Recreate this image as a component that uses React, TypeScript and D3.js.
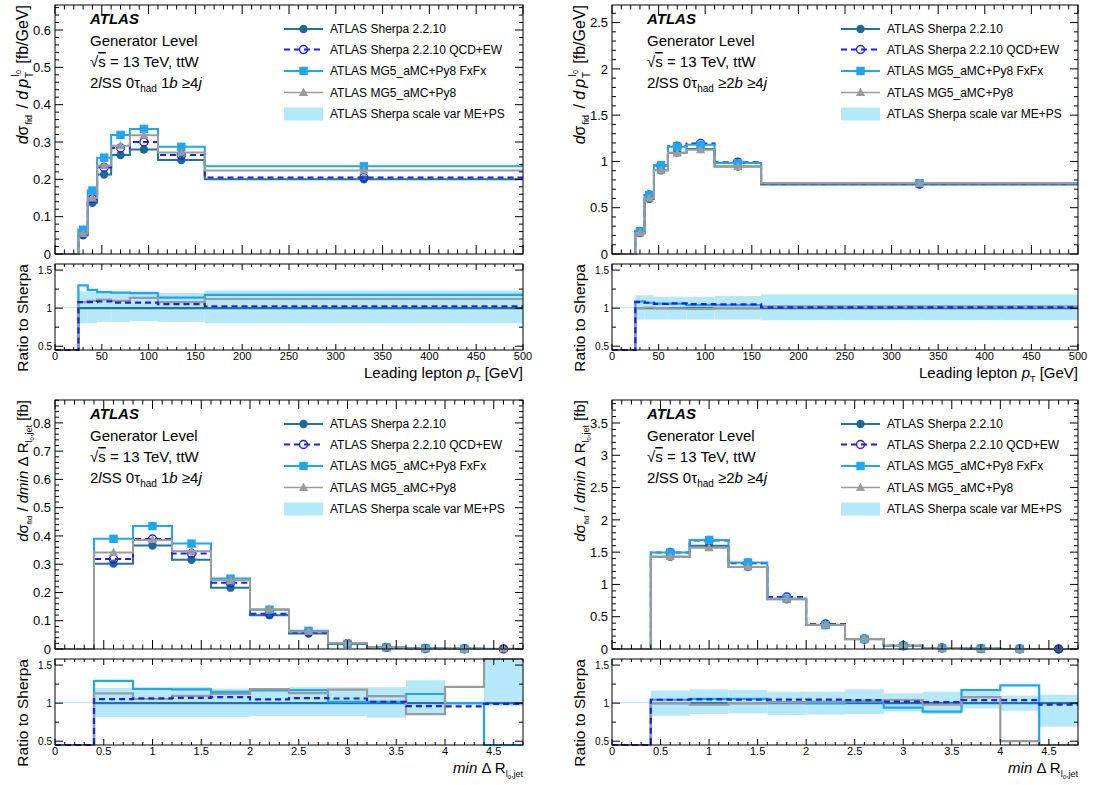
import React from 'react';
import * as d3 from 'd3';

// ---- bin edges ----
const ptEdges = [0, 25, 35, 45, 60, 80, 110, 160, 500];
const drEdges = [0, 0.4, 0.8, 1.2, 1.6, 2.0, 2.4, 2.8, 3.2, 3.6, 4.0, 4.4, 4.8];

// ---- leading lepton pT, 1b ----
const pt1bSherpa = [0, 0.050, 0.137, 0.213, 0.265, 0.280, 0.252, 0.200];
const pt1bQcdEw = [0, 0.054, 0.148, 0.232, 0.284, 0.300, 0.265, 0.205];
const pt1bFxFx = [0, 0.065, 0.170, 0.258, 0.319, 0.335, 0.287, 0.235];
const pt1bMg5 = [0, 0.054, 0.150, 0.237, 0.290, 0.318, 0.272, 0.224];
const pt1bBandUp = [1, 1.22, 1.22, 1.21, 1.21, 1.22, 1.20, 1.23];
const pt1bBandDown = [1, 0.80, 0.80, 0.82, 0.82, 0.83, 0.82, 0.80];

// ---- leading lepton pT, >=2b ----
const pt2bSherpa = [0, 0.225, 0.595, 0.905, 1.095, 1.135, 0.945, 0.750];
const pt2bQcdEw = [0, 0.243, 0.637, 0.955, 1.165, 1.195, 0.992, 0.758];
const pt2bFxFx = [0, 0.245, 0.637, 0.959, 1.160, 1.180, 0.983, 0.765];
const pt2bMg5 = [0, 0.225, 0.600, 0.905, 1.090, 1.125, 0.945, 0.765];
const pt2bBandUp = [1, 1.17, 1.17, 1.15, 1.15, 1.15, 1.16, 1.18];
const pt2bBandDown = [1, 0.85, 0.85, 0.85, 0.85, 0.85, 0.85, 0.84];

// ---- min dR(l0, jet), 1b ----
const dr1bSherpa = [0, 0.302, 0.366, 0.316, 0.217, 0.119, 0.055, 0.018, 0.0055, 0.0020, 0.0007, 0.0003];
const dr1bQcdEw = [0, 0.318, 0.389, 0.338, 0.234, 0.125, 0.0586, 0.0191, 0.0056, 0.00192, 0.00067, 0.000297];
const dr1bFxFx = [0, 0.390, 0.435, 0.373, 0.249, 0.139, 0.0644, 0.0183, 0.0056, 0.00224, 0.0007, 0];
const dr1bMg5 = [0, 0.341, 0.386, 0.346, 0.243, 0.141, 0.0622, 0.0212, 0.0060, 0.00171, 0.00085, 0.00075];
const dr1bBandUp = [1, 1.20, 1.20, 1.21, 1.19, 1.20, 1.21, 1.21, 1.21, 1.30, 1.0, 2.0];
const dr1bBandDown = [1, 0.82, 0.82, 0.82, 0.82, 0.83, 0.83, 0.83, 0.81, 0.855, 1.0, 0.965];

// ---- min dR(l0, jet), >=2b ----
const dr2bSherpa = [0, 1.43, 1.60, 1.27, 0.77, 0.37, 0.15, 0.050, 0.016, 0.0050, 0.0015, 0.0005];
const dr2bQcdEw = [0, 1.494, 1.680, 1.327, 0.805, 0.387, 0.156, 0.051, 0.0162, 0.0052, 0.00156, 0.00049];
const dr2bFxFx = [0, 1.494, 1.688, 1.340, 0.778, 0.370, 0.153, 0.047, 0.0142, 0.00585, 0.00185, 0];
const dr2bMg5 = [0, 1.430, 1.568, 1.270, 0.778, 0.377, 0.155, 0.052, 0.0157, 0.0054, 0.00075, 0];
const dr2bBandUp = [1, 1.165, 1.18, 1.17, 1.15, 1.15, 1.18, 1.13, 1.15, 1.15, 1.10, 1.11];
const dr2bBandDown = [1, 0.835, 0.857, 0.865, 0.845, 0.85, 0.855, 0.89, 0.855, 0.93, 0.90, 0.69];

const legendLabels = [
  'ATLAS Sherpa 2.2.10',
  'ATLAS Sherpa 2.2.10 QCD+EW',
  'ATLAS MG5_aMC+Py8 FxFx',
  'ATLAS MG5_aMC+Py8',
  'ATLAS Sherpa scale var ME+PS',
];

const ratioTicksMajor = [0.5, 1, 1.5];
const ratioTicksMinor = [0.75, 1.25];

const FONT = "'Liberation Sans', Arial, Helvetica, sans-serif";
const C = {
  sherpa: '#23729b',
  sherpaMarker: '#1c6a91',
  qcd: '#2020e8',
  fxfx: '#1ea6f3',
  mg5: '#9b9b9b',
  band: '#b5e8fa',
};

const tickVals = (max: number, step: number, min = 0) => {
  const out: number[] = [];
  const n = Math.floor((max - min) / step + 1e-6);
  for (let i = 0; i <= n; i++) out.push(+(min + i * step).toFixed(6));
  return out;
};
const fmt = (v: number) => String(+v.toFixed(3));

type PanelProps = {
  x0: number; x1: number; oy: number;
  edges: number[];
  sherpa: number[]; qcd: number[]; fxfx: number[]; mg5: number[];
  bandUp: number[]; bandDown: number[];
  yMax: number; yStep: number; yMinor: number;
  xMax: number; xStep: number; xMinor: number;
  kind: 'pt' | 'dr';
  nb: '1b' | '2b';
};

function Marker({ type, x, y }: { type: string; x: number; y: number }) {
  if (type === 'circle') return <circle cx={x} cy={y} r={4.2} fill={C.sherpaMarker} />;
  if (type === 'open') return <circle cx={x} cy={y} r={4} fill="none" stroke={C.qcd} strokeWidth={1.4} />;
  if (type === 'square') return <rect x={x - 4.2} y={y - 4.2} width={8.4} height={8.4} fill={C.fxfx} />;
  return <path d={`M${x},${y - 4.8}L${x + 4.6},${y + 3.4}L${x - 4.6},${y + 3.4}Z`} fill={C.mg5} />;
}

function Panel(p: PanelProps) {
  const { x0, x1, oy, edges } = p;
  const mTop = oy + 5, mBot = oy + 254;
  const rTop = oy + 264, rBot = oy + 350;
  const xs = d3.scaleLinear().domain([0, p.xMax]).range([x0, x1]);
  const ys = d3.scaleLinear().domain([0, p.yMax]).range([mBot, mTop]);
  const rs = d3.scaleLinear().domain([0.45, 1.58]).range([rBot, rTop]).clamp(true);

  const step = (vals: number[], sc: d3.ScaleLinear<number, number>) =>
    d3.line<[number, number]>()
      .x(d => xs(d[0]))
      .y(d => sc(d[1]))
      .curve(d3.curveStepAfter)([
        ...vals.map((v, i) => [edges[i], v] as [number, number]),
        [edges[edges.length - 1], vals[vals.length - 1]] as [number, number],
      ]) || '';

  const ratio = (vals: number[]) => vals.map((v, i) => (p.sherpa[i] > 0 ? v / p.sherpa[i] : 0));

  const series = [
    { vals: p.sherpa, color: C.sherpa, dash: undefined as string | undefined, marker: 'circle' },
    { vals: p.qcd, color: C.qcd, dash: '6,4', marker: 'open' },
    { vals: p.fxfx, color: C.fxfx, dash: undefined, marker: 'square' },
    { vals: p.mg5, color: C.mg5, dash: undefined, marker: 'triangle' },
  ];
  const ratioOrder = [series[0], series[2], series[3], series[1]];

  const centers = edges.slice(0, -1).map((e, i) => (e + edges[i + 1]) / 2);

  const xMaj = tickVals(p.xMax, p.xStep);
  const xMin = tickVals(p.xMax, p.xMinor);
  const yMaj = tickVals(p.yMax, p.yStep);
  const yMin = tickVals(p.yMax, p.yMinor);

  const legendRows = [29, 49.5, 71, 92.5, 114].map(v => v + oy);
  const lx0 = x0 + 229, lx1 = x0 + 268, ltx = x0 + 275;
  const tx = x0 + 35;

  return (
    <g>
      {/* ---- main panel ---- */}
      {series.map((s, k) => (
        <g key={k}>
          <path d={step(s.vals, ys)} fill="none" stroke={s.color} strokeWidth={2} strokeDasharray={s.dash} />
          {s.vals.map((v, i) => (v > 0 ? <Marker key={i} type={s.marker} x={xs(centers[i])} y={ys(v)} /> : null))}
        </g>
      ))}
      <rect x={x0} y={mTop} width={x1 - x0} height={mBot - mTop} fill="none" stroke="#000" strokeWidth={1} />
      {xMin.map((v, i) => {
        const L = xMaj.some(m => Math.abs(m - v) < 1e-6) ? 9 : 4.5;
        return (
          <g key={i} stroke="#000" strokeWidth={1}>
            <line x1={xs(v)} x2={xs(v)} y1={mBot} y2={mBot - L} />
            <line x1={xs(v)} x2={xs(v)} y1={mTop} y2={mTop + L} />
          </g>
        );
      })}
      {yMin.map((v, i) => {
        const L = yMaj.some(m => Math.abs(m - v) < 1e-6) ? 8 : 4;
        return (
          <g key={i} stroke="#000" strokeWidth={1}>
            <line x1={x0} x2={x0 + L} y1={ys(v)} y2={ys(v)} />
            <line x1={x1} x2={x1 - L} y1={ys(v)} y2={ys(v)} />
          </g>
        );
      })}
      {yMaj.map((v, i) => (
        <text key={i} x={x0 - 4} y={ys(v)} dy="0.36em" textAnchor="end" fontSize={13}>{fmt(v)}</text>
      ))}

      {/* y title, main */}
      {p.kind === 'pt' ? (
        <text transform={`translate(${x0 - 27},${mTop}) rotate(-90)`} textAnchor="end" fontSize={16}>
          <tspan fontStyle="italic">d</tspan>
          <tspan>σ</tspan>
          <tspan fontSize={9} dx={1} dy={4}>fid</tspan>
          <tspan dx={2} dy={-4}> / </tspan>
          <tspan fontStyle="italic">d</tspan>
          <tspan fontStyle="italic" dx={3}>p</tspan>
          <tspan fontSize={10} dx={1} dy={5}>T</tspan>
          <tspan fontSize={10} dx={-5} dy={-14}>l</tspan>
          <tspan fontSize={7} dx={0.5} dy={2}>0</tspan>
          <tspan dx={2} dy={7}> [fb/GeV]</tspan>
        </text>
      ) : (
        <text transform={`translate(${x0 - 27},${mTop}) rotate(-90)`} textAnchor="end" fontSize={15}>
          <tspan fontStyle="italic">d</tspan>
          <tspan>σ</tspan>
          <tspan fontSize={8} dy={4}>fid</tspan>
          <tspan dy={-4}> / </tspan>
          <tspan fontStyle="italic">dmin</tspan>
          <tspan> Δ R</tspan>
          <tspan fontSize={9} dy={4}>l</tspan>
          <tspan fontSize={6} dy={2}>0</tspan>
          <tspan fontSize={9} dy={-2}>,jet</tspan>
          <tspan dy={-4}> [fb]</tspan>
        </text>
      )}

      {/* ATLAS labels */}
      <text x={tx} y={oy + 24} fontSize={15} fontWeight="bold" fontStyle="italic">ATLAS</text>
      <text x={tx} y={oy + 46} fontSize={15}>Generator Level</text>
      <text x={tx} y={oy + 67} fontSize={15}>
        √<tspan style={{ textDecoration: 'overline' }}>s</tspan> = 13 TeV, ttW
      </text>
      <text x={tx} y={oy + 88} fontSize={15}>
        2<tspan fontStyle="italic">l</tspan>SS 0τ<tspan fontSize={10} dy={4}>had</tspan>
        <tspan dy={-4}>{p.nb === '1b' ? ' 1' : ' ≥2'}</tspan>
        <tspan fontStyle="italic">b</tspan> ≥4<tspan fontStyle="italic">j</tspan>
      </text>

      {/* legend */}
      {series.map((s, k) => (
        <g key={k}>
          <line x1={lx0} x2={lx1} y1={legendRows[k]} y2={legendRows[k]} stroke={s.color}
            strokeWidth={k === 3 ? 1.6 : 2} strokeDasharray={s.dash} />
          <Marker type={s.marker} x={(lx0 + lx1) / 2} y={legendRows[k]} />
        </g>
      ))}
      <rect x={lx0} y={legendRows[4] - 6.5} width={lx1 - lx0} height={13} fill={C.band} />
      {legendLabels.map((t, k) => (
        <text key={k} x={ltx} y={legendRows[k]} dy="0.36em" fontSize={12}>{t}</text>
      ))}

      {/* ---- ratio panel ---- */}
      {p.bandUp.map((u, i) => {
        const yA = rs(u), yB = rs(p.bandDown[i]);
        const h = Math.max(1, yB - yA);
        return <rect key={i} x={xs(edges[i])} y={yB - h} width={xs(edges[i + 1]) - xs(edges[i])} height={h} fill={C.band} />;
      })}
      {ratioOrder.map((s, k) => (
        <path key={k} d={step(ratio(s.vals), rs)} fill="none" stroke={s.color} strokeWidth={2.2} strokeDasharray={s.dash} />
      ))}
      <rect x={x0} y={rTop} width={x1 - x0} height={rBot - rTop} fill="none" stroke="#000" strokeWidth={1} />
      {xMin.map((v, i) => {
        const L = xMaj.some(m => Math.abs(m - v) < 1e-6) ? 6 : 3;
        return (
          <g key={i} stroke="#000" strokeWidth={1}>
            <line x1={xs(v)} x2={xs(v)} y1={rBot} y2={rBot - L} />
            <line x1={xs(v)} x2={xs(v)} y1={rTop} y2={rTop + L} />
          </g>
        );
      })}
      {[...ratioTicksMajor.map(v => [v, 8]), ...ratioTicksMinor.map(v => [v, 4])].map(([v, L], i) => (
        <g key={i} stroke="#000" strokeWidth={1}>
          <line x1={x0} x2={x0 + L} y1={rs(v)} y2={rs(v)} />
          <line x1={x1} x2={x1 - L} y1={rs(v)} y2={rs(v)} />
        </g>
      ))}
      {ratioTicksMajor.map((v, i) => (
        <text key={i} x={x0 - 3} y={rs(v)} dy="0.36em" textAnchor="end" fontSize={10}>{fmt(v)}</text>
      ))}
      {xMaj.map((v, i) => (
        <text key={i} x={xs(v)} y={oy + 360} textAnchor="middle" fontSize={11}>{fmt(v)}</text>
      ))}
      <text transform={`translate(${x0 - 27},${rTop}) rotate(-90)`} textAnchor="end" fontSize={15.5}>Ratio to Sherpa</text>

      {/* x title */}
      {p.kind === 'pt' ? (
        <text x={x1} y={oy + 378} textAnchor="end" fontSize={15}>
          Leading lepton <tspan fontStyle="italic">p</tspan>
          <tspan fontSize={9} dy={4}>T</tspan>
          <tspan dy={-4}> [GeV]</tspan>
        </text>
      ) : (
        <text x={x1} y={oy + 378} textAnchor="end" fontSize={15}>
          <tspan fontStyle="italic">min</tspan>
          <tspan> Δ R</tspan>
          <tspan fontSize={9} dy={4}>l</tspan>
          <tspan fontSize={6} dy={2}>0</tspan>
          <tspan fontSize={9} dy={-2}>,jet</tspan>
        </text>
      )}
    </g>
  );
}

export default function App() {
  return (
    <svg width={1094} height={785} style={{ position: 'absolute', left: 0, top: 0 }} fontFamily={FONT}>
      <rect x={0} y={0} width={1094} height={785} fill="#fff" />
      <Panel x0={55} x1={523} oy={0} edges={ptEdges}
        sherpa={pt1bSherpa} qcd={pt1bQcdEw} fxfx={pt1bFxFx} mg5={pt1bMg5}
        bandUp={pt1bBandUp} bandDown={pt1bBandDown}
        yMax={0.667} yStep={0.1} yMinor={0.02} xMax={500} xStep={50} xMinor={10} kind="pt" nb="1b" />
      <Panel x0={612} x1={1078} oy={0} edges={ptEdges}
        sherpa={pt2bSherpa} qcd={pt2bQcdEw} fxfx={pt2bFxFx} mg5={pt2bMg5}
        bandUp={pt2bBandUp} bandDown={pt2bBandDown}
        yMax={2.69} yStep={0.5} yMinor={0.1} xMax={500} xStep={50} xMinor={10} kind="pt" nb="2b" />
      <Panel x0={55} x1={523} oy={395} edges={drEdges}
        sherpa={dr1bSherpa} qcd={dr1bQcdEw} fxfx={dr1bFxFx} mg5={dr1bMg5}
        bandUp={dr1bBandUp} bandDown={dr1bBandDown}
        yMax={0.881} yStep={0.1} yMinor={0.02} xMax={4.8} xStep={0.5} xMinor={0.1} kind="dr" nb="1b" />
      <Panel x0={612} x1={1078} oy={395} edges={drEdges}
        sherpa={dr2bSherpa} qcd={dr2bQcdEw} fxfx={dr2bFxFx} mg5={dr2bMg5}
        bandUp={dr2bBandUp} bandDown={dr2bBandDown}
        yMax={3.856} yStep={0.5} yMinor={0.1} xMax={4.8} xStep={0.5} xMinor={0.1} kind="dr" nb="2b" />
    </svg>
  );
}
